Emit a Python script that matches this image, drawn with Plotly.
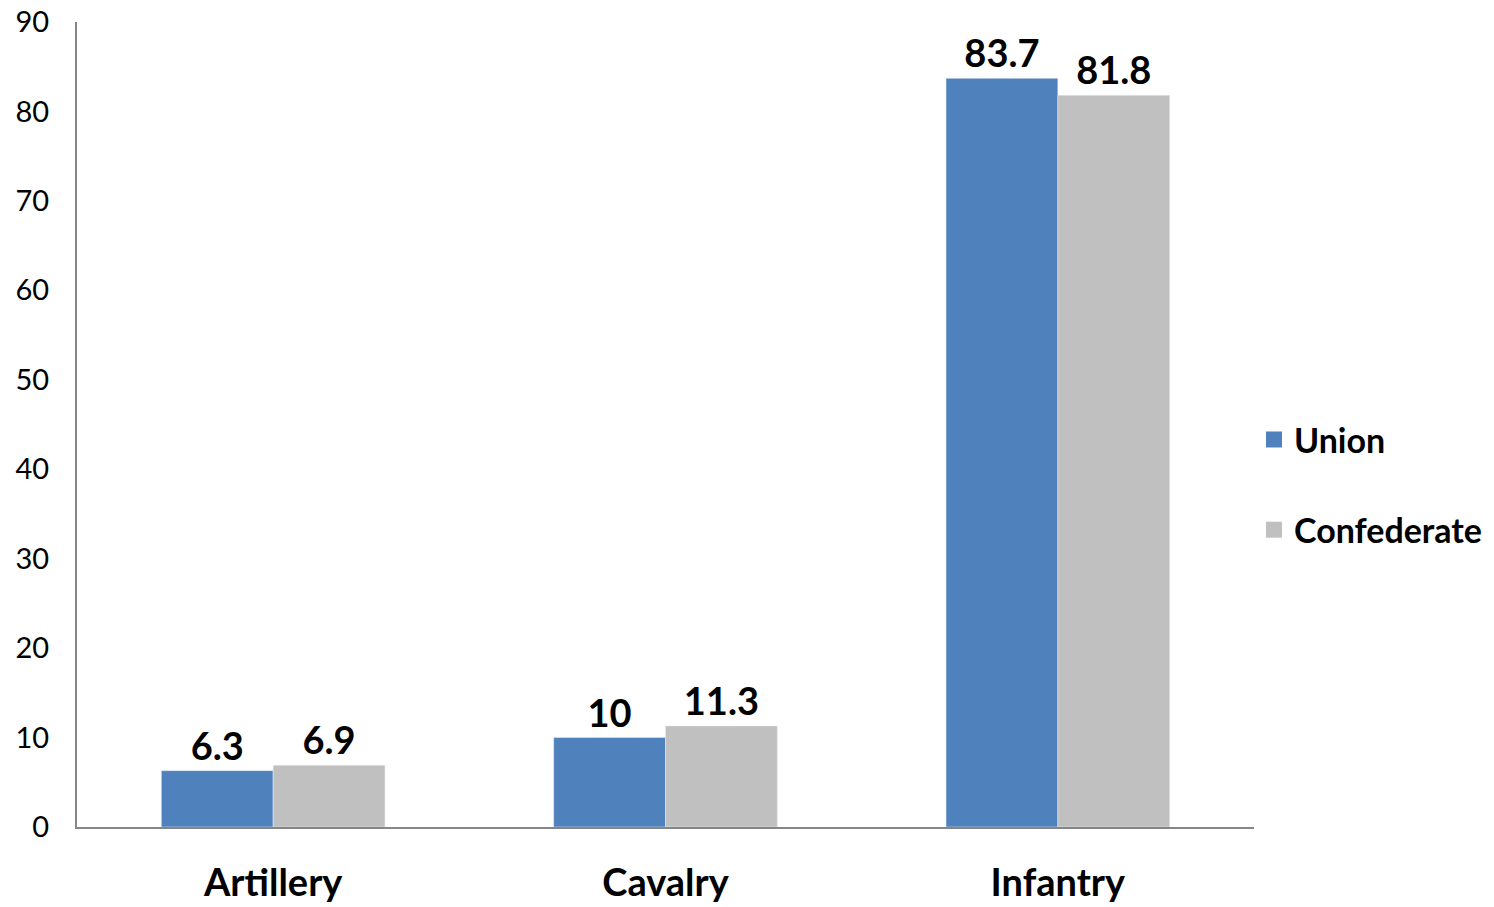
import plotly.graph_objects as go

categories = ["Artillery", "Cavalry", "Infantry"]
union = [6.3, 10, 83.7]
confederate = [6.9, 11.3, 81.8]
y_ticks = [0, 10, 20, 30, 40, 50, 60, 70, 80, 90]
series_names = ["Union", "Confederate"]
series_colors = ["#4F81BD", "#C0C0C0"]

FONT = "Lato, 'Open Sans', sans-serif"

fig = go.Figure()
for name, vals, col in zip(series_names, [union, confederate], series_colors):
    fig.add_trace(go.Bar(
        name=name, x=categories, y=vals, marker_color=col,
        text=[f"{v:g}" for v in vals], textposition="outside", cliponaxis=False,
        textfont=dict(size=38, color="black", family=FONT, weight="bold"),
        showlegend=False,
    ))
# legend entries with larger square swatches
for name, col in zip(series_names, series_colors):
    fig.add_trace(go.Scatter(
        name=name, x=[None], y=[None], mode="markers",
        marker=dict(symbol="square", size=20, color=col),
        legendgroup=name, showlegend=True,
    ))

fig.update_layout(
    width=1494, height=907,
    margin=dict(l=77, r=240, t=22, b=80, autoexpand=False),
    paper_bgcolor="white", plot_bgcolor="white",
    barmode="group", bargap=0.43, bargroupgap=0,
    font=dict(family=FONT, color="black"),
    legend=dict(
        x=1.0, xanchor="left", xref="paper", y=0.425, yanchor="middle",
        font=dict(size=34, family=FONT, weight="bold", color="black"),
        tracegroupgap=43, itemwidth=30,
    ),
    xaxis=dict(
        showline=True, linecolor="#868686", linewidth=2, ticks="",
        tickfont=dict(size=38, family=FONT, weight="bold", color="black"),
        ticklabelstandoff=21, automargin=False,
    ),
    yaxis=dict(
        range=[0, 90], tickvals=y_ticks, showgrid=False, zeroline=False,
        showline=True, linecolor="#868686", linewidth=2, ticks="",
        tickfont=dict(size=29, family=FONT, color="black"),
        ticklabelstandoff=20, automargin=False,
    ),
)

fig.write_html(
    "out.html",
    config={"displayModeBar": False},
    post_script="document.body.style.margin='0';document.body.style.overflow='hidden';",
)
